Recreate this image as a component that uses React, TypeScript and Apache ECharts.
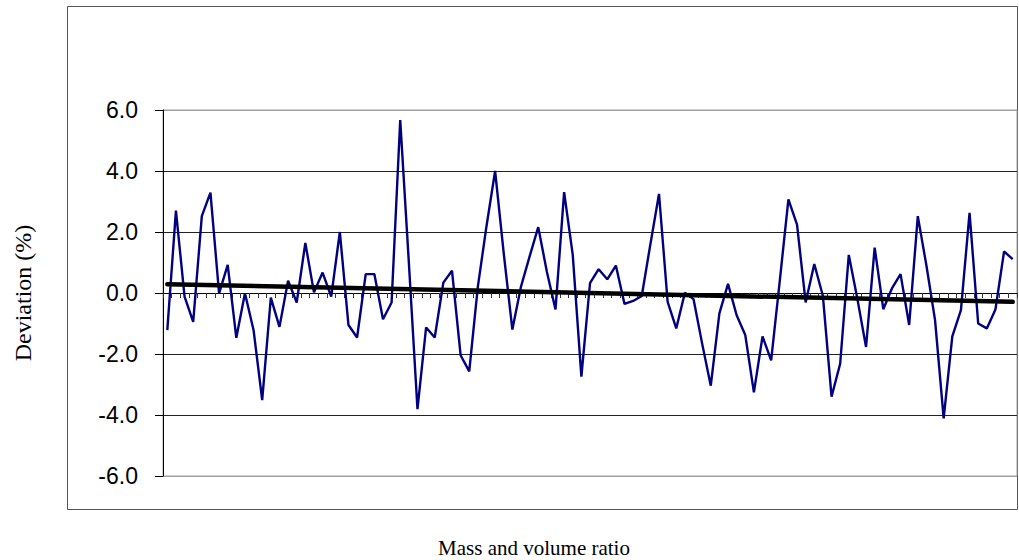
import { useEffect, useRef } from "react";
import * as echarts from "echarts";

// Deviation of each measurement, in percent
const deviation: number[] = [
  -1.22, 2.7, -0.12, -0.95, 2.52, 3.29, -0.01, 0.92, -1.47, -0.01,
  -1.22, -3.51, -0.15, -1.11, 0.4, -0.31, 1.64, 0.02, 0.67, -0.12,
  2.0, -1.05, -1.46, 0.62, 0.62, -0.86, -0.31, 5.67, 1.0, -3.81,
  -1.13, -1.46, 0.34, 0.73, -2.04, -2.57, 0.21, 2.19, 4.0, 1.3,
  -1.2, 0.21, 1.2, 2.16, 0.7, -0.54, 3.31, 1.25, -2.74, 0.32,
  0.78, 0.45, 0.9, -0.36, -0.26, -0.1, 1.6, 3.25, -0.29, -1.16,
  0.01, -0.2, -1.66, -3.04, -0.67, 0.3, -0.73, -1.38, -3.26, -1.42,
  -2.21, 0.4, 3.07, 2.24, -0.31, 0.95, -0.1, -3.4, -2.32, 1.25,
  -0.2, -1.77, 1.49, -0.53, 0.15, 0.62, -1.05, 2.52, 0.9, -0.89,
  -4.11, -1.42, -0.56, 2.63, -1.0, -1.16, -0.54, 1.36, 1.11,
];

// Sample numbers along the category axis
const categories: string[] = deviation.map((_, i) => String(i + 1));

// Linear trend: value at the first and at the last sample
const trendEnds: number[] = [0.29, -0.29];

// Value axis ticks
const yTicks: number[] = [-6, -4, -2, 0, 2, 4, 6];

export default function App() {
  const ref = useRef<HTMLDivElement>(null);

  useEffect(() => {
    if (!ref.current) return;
    const chart = echarts.init(ref.current, null, { renderer: "svg" });
    const last = categories.length - 1;
    chart.setOption({
      animation: false,
      backgroundColor: "#ffffff",
      graphic: [
        {
          type: "rect",
          shape: { x: 67.5, y: 6.5, width: 950, height: 503 },
          style: { fill: "none", stroke: "#555555", lineWidth: 1 },
          z: -1,
        },
      ],
      grid: {
        left: 163,
        top: 110,
        right: 2,
        bottom: 84,
        show: true,
        borderColor: "#a0a0a0",
        borderWidth: 1,
        containLabel: false,
        outerBoundsMode: "none",
      },
      xAxis: {
        type: "category",
        data: categories,
        boundaryGap: true,
        name: "Mass and volume ratio",
        nameLocation: "middle",
        nameGap: 61,
        nameTextStyle: {
          fontFamily: "Liberation Serif",
          fontSize: 21,
          color: "#000",
          padding: [0, 112, 0, 0],
        },
        axisLine: { onZero: true, lineStyle: { color: "#000", width: 1 } },
        axisTick: {
          show: true,
          interval: 0,
          length: 5,
          lineStyle: { color: "#333", width: 1 },
        },
        axisLabel: { show: false },
        splitLine: { show: false },
      },
      yAxis: {
        type: "value",
        min: yTicks[0],
        max: yTicks[yTicks.length - 1],
        interval: 2,
        name: "Deviation (%)",
        nameLocation: "middle",
        nameGap: 128,
        nameTextStyle: {
          fontFamily: "Liberation Serif",
          fontSize: 24,
          color: "#000",
        },
        axisLine: { show: true, lineStyle: { color: "#000", width: 1 } },
        axisTick: { show: true, length: 8, lineStyle: { color: "#000" } },
        axisLabel: {
          margin: 25,
          fontFamily: "Liberation Sans",
          fontSize: 23,
          color: "#000",
          formatter: (v: number) => v.toFixed(1),
        },
        splitLine: {
          show: true,
          lineStyle: {
            color: ["#a0a0a0", "#222", "#222", "#222", "#222", "#222", "#a0a0a0"],
            width: 1,
          },
        },
      },
      series: [
        {
          type: "line",
          data: deviation,
          symbol: "none",
          lineStyle: { color: "#000080", width: 2.4 },
          z: 3,
        },
        {
          type: "line",
          data: [
            [0, trendEnds[0]],
            [last, trendEnds[1]],
          ],
          symbol: "none",
          lineStyle: { color: "#000", width: 4.5, cap: "round" },
          z: 4,
        },
      ],
    });
    return () => chart.dispose();
  }, []);

  return (
    <div
      ref={ref}
      style={{ position: "fixed", left: 0, top: 0, width: 1019, height: 560 }}
    />
  );
}
